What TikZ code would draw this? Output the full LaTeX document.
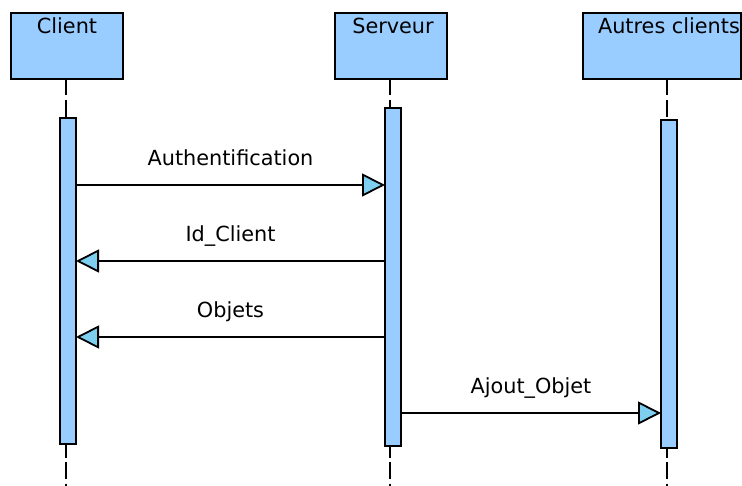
\documentclass[tikz,border=0pt]{standalone}
\usepackage{fontspec}
\setmainfont{DejaVu Sans}
\usetikzlibrary{arrows.meta}
\definecolor{boxblue}{HTML}{99CCFF}
\definecolor{tipblue}{HTML}{7ECEF0}
\begin{document}
\begin{tikzpicture}[x=1pt,y=-1pt,
  every node/.style={inner sep=0pt,outer sep=0pt},
  actor/.style={draw=black,fill=boxblue,line width=1.8pt,minimum width=112pt,minimum height=66pt,anchor=north west},
  actorname/.style={font=\fontsize{20.8}{24}\selectfont,anchor=base},
  activation/.style={draw=black,fill=boxblue,line width=1.8pt,minimum width=16pt,anchor=north west},
  lifeline/.style={line width=1.8pt,dash pattern=on 16.5pt off 4.8pt},
  msg/.style={line width=1.8pt,-{Triangle[length=23pt,width=23pt,fill=tipblue]}},
  msglabel/.style={font=\fontsize{20.8}{24}\selectfont,anchor=base}]
\useasboundingbox (0,0) rectangle (742,486);
\fill[white] (0,0) rectangle (742,486);

% actor boxes
\node[actor] (client) at (11,13) {};
\node[actor] (serveur) at (335,13) {};
\node[actor,minimum width=158pt] (autres) at (583,13) {};
\node[actorname] (tclient) at (67,34) {Client};
\node[actorname] (tserveur) at (393,34) {Serveur};
\node[actorname] (tautres) at (669,34) {Autres clients};

% lifelines
\coordinate (cend) at (66,486);
\coordinate (send) at (390,486);
\coordinate (aend) at (667,486);
\draw[lifeline] (client.south -| cend) -- (cend);
\draw[lifeline] (serveur.south -| send) -- (send);
\draw[lifeline] (autres.south -| aend) -- (aend);

% activation bars
\node[activation,minimum height=326pt] (cact) at (60,118) {};
\node[activation,minimum height=338pt] (sact) at (385,108) {};
\node[activation,minimum height=328pt] (aact) at (661,120) {};

% messages
\draw[msg] (cact.east |- 0,185) -- (sact.west |- 0,185)
  node[msglabel,midway,yshift=19.5pt] (m1) {Authentification};
\draw[msg] (sact.west |- 0,261) -- (cact.east |- 0,261)
  node[msglabel,midway,yshift=19.5pt] (m2) {Id\_Client};
\draw[msg] (sact.west |- 0,337) -- (cact.east |- 0,337)
  node[msglabel,midway,yshift=19.5pt] (m3) {Objets};
\draw[msg] (sact.east |- 0,413) -- (aact.west |- 0,413)
  node[msglabel,midway,yshift=19.5pt] (m4) {Ajout\_Objet};
\end{tikzpicture}
\end{document}
